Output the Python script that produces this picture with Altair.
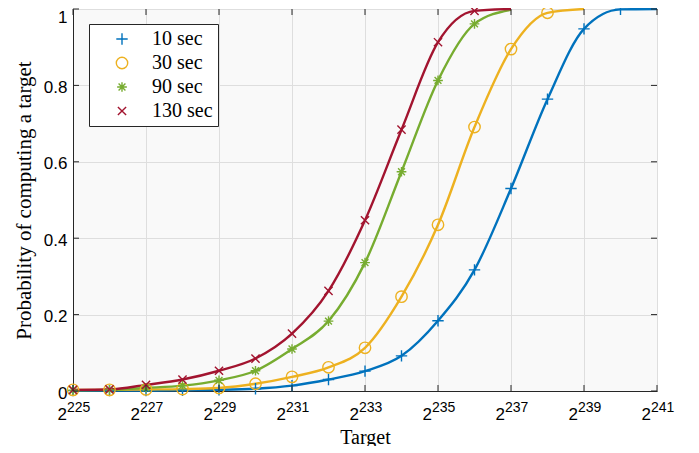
import altair as alt
import pandas as pd

# ---- data ----
series_names = ["10 sec", "30 sec", "90 sec", "130 sec"]
colors = ["#0072BD", "#EDB120", "#77AC30", "#A2142F"]

exp_10 = list(range(225, 242))
val_10 = [0.001, 0.001, 0.001, 0.002, 0.003, 0.006, 0.014, 0.030, 0.052, 0.092,
          0.184, 0.317, 0.530, 0.764, 0.948, 0.999, 1.0]
exp_30 = list(range(225, 240))
val_30 = [0.003, 0.003, 0.004, 0.005, 0.008, 0.019, 0.037, 0.062, 0.113, 0.247,
          0.435, 0.691, 0.895, 0.990, 1.0]
exp_90 = list(range(225, 238))
val_90 = [0.002, 0.003, 0.008, 0.014, 0.028, 0.053, 0.110, 0.183, 0.336, 0.574,
          0.813, 0.961, 0.998]
exp_130 = list(range(225, 238))
val_130 = [0.003, 0.004, 0.016, 0.030, 0.053, 0.085, 0.150, 0.262, 0.447, 0.684,
           0.913, 0.995, 1.0]

x_ticks = [225, 227, 229, 231, 233, 235, 237, 239, 241]
y_ticks = [0, 0.2, 0.4, 0.6, 0.8, 1.0]

# marker shapes (unit-square SVG paths)
shape_plus = "M-1,0L1,0M0,-1L0,1"
shape_circle = "M1,0A1,1,0,1,1,-1,0A1,1,0,1,1,1,0"
shape_star = ("M-0.85,0L0.85,0M0,-0.85L0,0.85"
              "M-0.6,-0.6L0.6,0.6M-0.6,0.6L0.6,-0.6")
shape_x = "M-0.72,-0.72L0.72,0.72M-0.72,0.72L0.72,-0.72"
shapes = [shape_plus, shape_circle, shape_star, shape_x]

rows = []
for name, ex, vals in [("10 sec", exp_10, val_10), ("30 sec", exp_30, val_30),
                       ("90 sec", exp_90, val_90), ("130 sec", exp_130, val_130)]:
    for i, (e, v) in enumerate(zip(ex, vals)):
        rows.append({"series": name, "exp": e, "p": v,
                     "marker": i < len(ex) - 1})
df = pd.DataFrame(rows)

xt = pd.DataFrame({"exp": x_ticks, "e": [str(t) for t in x_ticks]})
yt = pd.DataFrame({"p": y_ticks})

W, H = 584, 382
frame = "#262626"
grid = "#dedede"
serif = "Liberation Serif"
sans = "Liberation Sans"

xscale = alt.Scale(domain=[225, 241], nice=False, zero=False)
yscale = alt.Scale(domain=[0, 1], nice=False, zero=False)

x_axis = alt.Axis(values=x_ticks, labels=False, ticks=False,
                  grid=True, gridColor=grid, domainColor=frame,
                  title="Target", titleFont=serif,
                  titleFontSize=20, titleFontWeight="normal",
                  titleColor="black", titleY=46, titleBaseline="middle")
y_axis = alt.Axis(values=y_ticks, ticks=False, grid=True,
                  gridColor=grid, domainColor=frame,
                  format="~g", labelFont=sans,
                  labelFontSize=17, labelColor="black",
                  labelPadding=6,
                  labelBaseline={"condition": {"test": "datum.value == 1",
                                               "value": "top"},
                                 "value": "middle"},
                  labelOffset={"condition": {"test": "datum.value == 1",
                                             "value": 0},
                               "value": 2},
                  title="Probability of computing a target",
                  titleFont=serif, titleFontSize=21,
                  titleFontWeight="normal", titleColor="black",
                  titleX=-49, titleBaseline="middle")

X = alt.X("exp:Q", scale=xscale, axis=x_axis)
Y = alt.Y("p:Q", scale=yscale, axis=y_axis)

legend = alt.Legend(title=None, orient="none", legendX=16, legendY=15,
                    fillColor="white", strokeColor=frame, padding=5,
                    labelFont=serif, labelFontSize=20, labelColor="black",
                    symbolSize=130, symbolStrokeWidth=1.4,
                    symbolOffset=18, labelOffset=20, rowPadding=4)

base = alt.Chart(df)

line_layers = [
    base.transform_filter(alt.datum.series == name).mark_line(
        strokeWidth=2.4, interpolate="monotone", color=col
    ).encode(x=X, y=Y, order=alt.Order("exp:Q"))
    for name, col in zip(series_names, colors)
]

points = base.transform_filter("datum.marker").mark_point(
    filled=False, strokeWidth=1.4, size=130, opacity=1
).encode(
    x=X, y=Y,
    color=alt.Color("series:N",
                    scale=alt.Scale(domain=series_names, range=colors),
                    legend=legend),
    shape=alt.Shape("series:N",
                    scale=alt.Scale(domain=series_names, range=shapes),
                    legend=legend),
)

tick_bottom = alt.Chart(xt).mark_rule(color=frame, strokeWidth=1).encode(
    x=X, y=alt.value(H), y2=alt.value(H - 6))
tick_top = alt.Chart(xt).mark_rule(color=frame, strokeWidth=1).encode(
    x=X, y=alt.value(0), y2=alt.value(6))
tick_left = alt.Chart(yt).mark_rule(color=frame, strokeWidth=1).encode(
    y=Y, x=alt.value(0), x2=alt.value(6))
tick_right = alt.Chart(yt).mark_rule(color=frame, strokeWidth=1).encode(
    y=Y, x=alt.value(W - 6), x2=alt.value(W))

lab_base = alt.Chart(xt).mark_text(
    text="2", align="right", baseline="alphabetic", font=sans,
    fontSize=17, color="black", dx=-6
).encode(x=X, y=alt.value(H + 29))
lab_exp = alt.Chart(xt).mark_text(
    align="left", baseline="alphabetic", font=sans,
    fontSize=14, color="black", dx=-6
).encode(x=X, y=alt.value(H + 21), text="e:N")

chart = alt.layer(
    *line_layers, points, tick_bottom, tick_top, tick_left, tick_right,
    lab_base, lab_exp
).properties(
    width=W, height=H,
    autosize=alt.AutoSizeParams(type="none"),
    padding={"left": 65, "top": 1, "right": 30, "bottom": 55},
    background="white",
).configure_view(
    stroke=frame, strokeWidth=1, fill="#f9f9f9"
)

chart.save("out.html", embed_options={"renderer": "svg", "actions": False})
